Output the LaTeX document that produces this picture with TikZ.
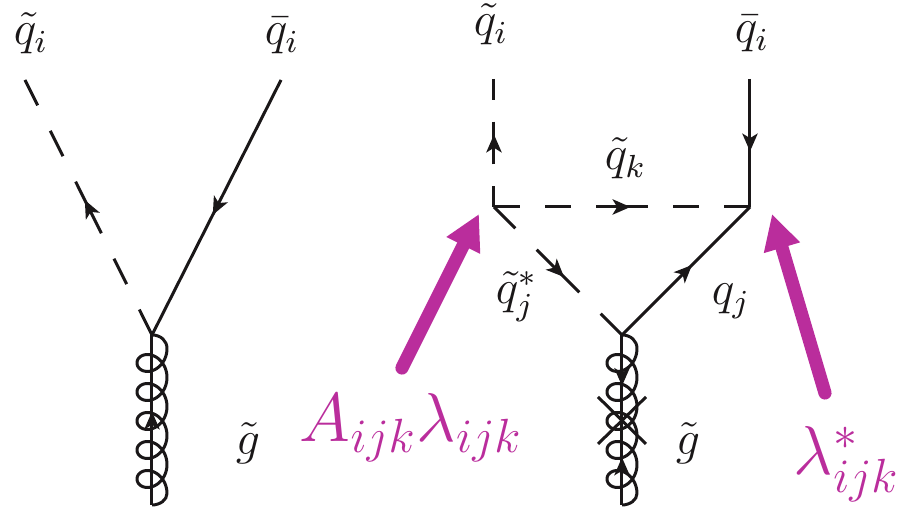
\documentclass[tikz,border=0pt]{standalone}
\usepackage{xcolor}
\usetikzlibrary{arrows.meta,calc,decorations.markings}
\definecolor{coupling}{HTML}{BA2D9C}
\definecolor{ink}{HTML}{1A1718}
\tikzset{
  solidline/.style={draw=ink,line width=0.75pt},
  scalar/.style={solidline,dash pattern=on #1 off #1},
  midtip/.style={decoration={markings,mark=at position #1 with
    {\pgftransformxshift{2.1pt}\arrow[ink]{Stealth[length=4.5pt,width=3.9pt,inset=1.2pt]}}},decorate},
  partlabel/.style={inner sep=0pt,anchor=base west,text=ink,font=\fontsize{11.8}{13}\selectfont},
  insertion/.style={draw=coupling,line width=3.3pt,line cap=round,-{Triangle[length=8.8pt,width=8.8pt]}},
  couplabel/.style={inner sep=0pt,anchor=base west,text=coupling,font=\fontsize{17.8}{19}\selectfont},
  gluon/.pic={
    \draw[solidline] (0,0) -- (0,170);
    \draw[solidline,line join=round] (0,0) .. controls (9,0) and (15,6) .. (15,13.5)
      -- plot[domain=0:1800,samples=300,variable=\t]
      ({15*cos(\t)},{13.5+0.08056*\t+15*sin(\t)})
      .. controls (15,165) and (8,170) .. (0,170);
  },
}
\begin{document}
\begin{tikzpicture}[x=0.25pt,y=-0.25pt]
\useasboundingbox (0,0) rectangle (903,509);

% left diagram
\coordinate (vert) at (152,335);
\coordinate (vertb) at (152,505);
\coordinate (sqout) at (25,80);
\coordinate (qbout) at (281,80);
\coordinate (sqmid) at ($(vert)!0.5!(sqout)$);

\draw[scalar=7.1pt] (vert) -- (sqmid);
\draw[scalar=7.1pt] (sqout) -- (sqmid);
\path[midtip=0.5] (vert) -- (sqout);
\draw[solidline] (qbout) -- (vert);
\path[midtip=0.5] (qbout) -- (vert);
\pic at (vert) {gluon};
\path[midtip=0.5] (vertb) -- (vert);

\node[partlabel] (sqlabel) at (13,45) {$\tilde{q}_i$};
\node[partlabel] (qblabel) at (264,45) {$\bar{q}_i$};
\node[partlabel] (gllabel) at (235,455) {$\tilde{g}$};

% right diagram
\coordinate (tl) at (494,207);
\coordinate (tr) at (750,207);
\coordinate (bt) at (622,335);
\coordinate (btb) at (622,505);
\coordinate (tlout) at (494,79);
\coordinate (trout) at (750,79);
\coordinate (tlmid) at ($(tl)!0.5!(tlout)$);
\coordinate (topmid) at ($(tl)!0.5!(tr)$);
\coordinate (diagmid) at ($(tl)!0.5!(bt)$);
\coordinate (xa) at (598,397);
\coordinate (xb) at (646,444);
\coordinate (xc) at (646,397);
\coordinate (xd) at (598,444);

\draw[scalar=5.33pt] (tl) -- (tlmid);
\draw[scalar=5.33pt] (tlout) -- (tlmid);
\path[midtip=0.5] (tl) -- (tlout);
\draw[scalar=6.4pt] (tl) -- (topmid);
\draw[scalar=6.4pt] (tr) -- (topmid);
\path[midtip=0.5] (tl) -- (tr);
\draw[scalar=7.54pt] (tl) -- (diagmid);
\draw[scalar=7.54pt] (bt) -- (diagmid);
\path[midtip=0.5] (tl) -- (bt);
\draw[solidline] (trout) -- (tr);
\path[midtip=0.5] (trout) -- (tr);
\draw[solidline] (bt) -- (tr);
\path[midtip=0.5] (bt) -- (tr);
\pic at (bt) {gluon};
\path[midtip=0.25] (bt) -- (btb);
\path[midtip=0.23] (btb) -- (bt);
\draw[solidline] (xa) -- (xb);
\draw[solidline] (xc) -- (xd);

\node[partlabel] (sqtop) at (473,36) {$\tilde{q}_i$};
\node[partlabel] (qbtop) at (734,43) {$\bar{q}_i$};
\node[partlabel] (sqk) at (604,170) {$\tilde{q}_k$};
\node[partlabel] (sqj) at (495,304) {$\tilde{q}_j^*$};
\node[partlabel] (qj) at (711,305) {$q_j$};
\node[partlabel] (glright) at (675,455) {$\tilde{g}$};

% couplings
\coordinate (afoot) at (402,368);
\coordinate (ahead) at (479,214);
\coordinate (lfoot) at (825,393);
\coordinate (lhead) at (772,214);
\draw[insertion] (afoot) -- (ahead);
\draw[insertion] (lfoot) -- (lhead);
\node[couplabel] (alabel) at (299,442) {$A_{ijk}\lambda_{ijk}$};
\node[couplabel] (llabel) at (793,475) {$\lambda_{ijk}^*$};

\end{tikzpicture}
\end{document}
